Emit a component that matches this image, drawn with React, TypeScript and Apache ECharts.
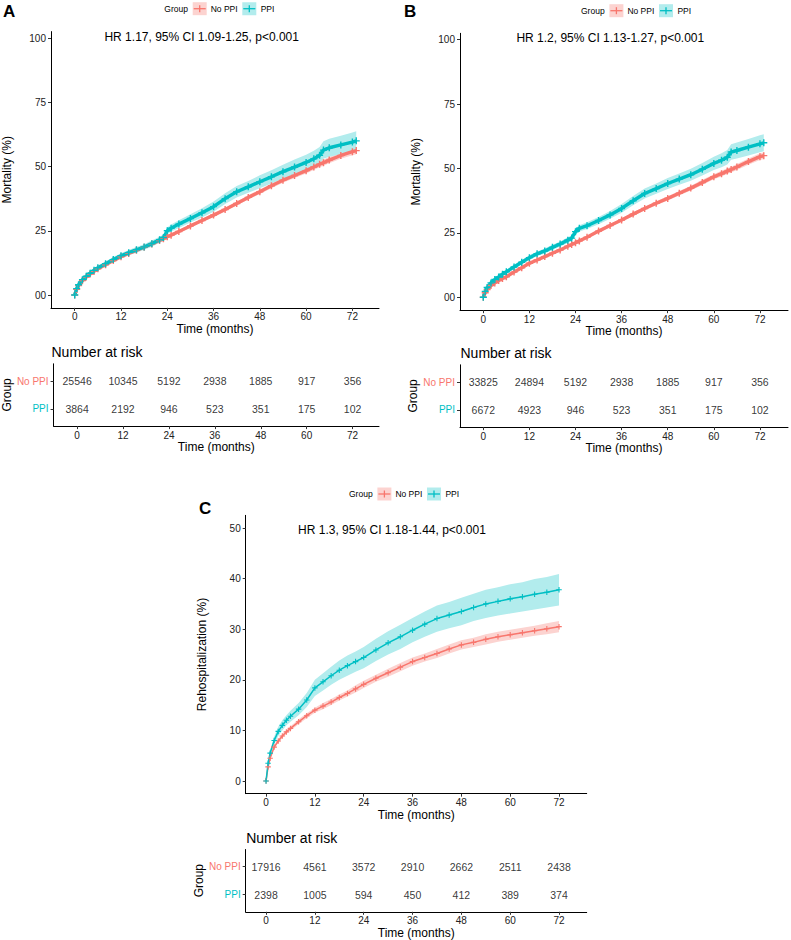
import React, { useEffect, useRef } from 'react';
import * as echarts from 'echarts';

// ---------- colours ----------
const RED = '#F8766D';
const CYAN = '#00BFC4';
const RED_BAND = '#FCD3D0';
const CYAN_BAND = '#B2ECED';
const FONT = '"Liberation Sans", Arial, Helvetica, sans-serif';

// ---------- data: panel A & B time grid (months) ----------
const timesAB = [0, 0.5, 1, 2, 3, 4, 5, 6, 8, 10, 12, 14, 16, 18, 20, 22, 23, 24, 25, 27, 30, 33, 36, 39, 42, 45, 48, 51, 54, 57, 60, 62, 63.5, 64.5, 66, 69, 72, 73];

// Panel A – mortality (%)
const aPpiEst = [0, 2.5, 4, 6, 7.3, 8.5, 9.6, 10.6, 12.2, 13.8, 15.3, 16.5, 17.6, 18.7, 20, 21.5, 22.4, 25, 26, 27.6, 29.8, 32, 34.4, 37.5, 40.2, 42.1, 44.1, 46, 48, 49.8, 51.6, 53, 54.4, 56.4, 57.3, 58.4, 59.5, 60];
const aPpiHw = [0, 0.6, 0.7, 0.8, 0.8, 0.8, 0.9, 0.9, 0.9, 1, 1, 1, 1.1, 1.1, 1.2, 1.2, 1.2, 1.3, 1.4, 1.5, 1.6, 1.8, 2, 2.1, 2.2, 2.3, 2.5, 2.6, 2.7, 2.9, 3, 3.1, 3.2, 3.4, 3.5, 3.6, 3.7, 3.7];
const aNoEst = [0, 2.2, 3.7, 5.6, 7, 8.2, 9.2, 10.2, 11.8, 13.4, 14.9, 16.2, 17.4, 18.6, 19.9, 21.2, 21.9, 22.7, 23.3, 24.7, 26.9, 29, 31.1, 33.3, 35.6, 38, 40.2, 42.5, 44.7, 46.5, 48.4, 49.8, 50.9, 51.5, 52.5, 54.3, 55.8, 56.2];
const aNoHw = [0, 0.3, 0.3, 0.3, 0.3, 0.3, 0.3, 0.3, 0.4, 0.4, 0.4, 0.4, 0.4, 0.5, 0.5, 0.5, 0.5, 0.5, 0.5, 0.6, 0.6, 0.6, 0.7, 0.7, 0.8, 0.8, 0.9, 0.9, 1, 1, 1.1, 1.1, 1.2, 1.2, 1.2, 1.3, 1.4, 1.4];

// Panel B – mortality (%)
const bPpiEst = [0, 2.3, 3.8, 5.6, 6.9, 7.9, 9, 9.9, 11.8, 13.6, 15.4, 16.9, 18, 19.4, 20.7, 22.2, 23, 25.5, 26.8, 27.8, 29.8, 32, 34.5, 37.5, 40.3, 42.2, 44.2, 45.9, 47.6, 49.7, 52, 53.2, 54.4, 56.4, 57, 58.3, 59.6, 60];
const bPpiHw = [0, 0.5, 0.6, 0.7, 0.7, 0.7, 0.8, 0.8, 0.8, 0.9, 0.9, 0.9, 1, 1, 1, 1.1, 1.1, 1.2, 1.2, 1.3, 1.4, 1.5, 1.7, 1.8, 1.9, 2, 2.1, 2.2, 2.3, 2.4, 2.6, 2.7, 2.8, 3, 3.1, 3.2, 3.3, 3.3];
const bNoEst = [0, 1.8, 3, 4.6, 5.6, 6.5, 7.3, 8, 9.8, 11.5, 13.2, 14.5, 15.8, 17.1, 18.4, 19.8, 20.5, 21.2, 21.9, 23.3, 25.7, 27.9, 30, 32.3, 34.5, 36.5, 38.4, 40.4, 42.4, 44.6, 46.8, 48, 49, 49.6, 50.6, 52.7, 54.6, 55];
const bNoHw = [0, 0.2, 0.2, 0.3, 0.3, 0.3, 0.3, 0.3, 0.3, 0.3, 0.4, 0.4, 0.4, 0.4, 0.4, 0.5, 0.5, 0.5, 0.5, 0.5, 0.6, 0.6, 0.6, 0.7, 0.7, 0.8, 0.8, 0.9, 0.9, 1, 1, 1.1, 1.1, 1.1, 1.2, 1.2, 1.3, 1.3];

// Panel C – rehospitalization (%)
const timesC = [0, 0.5, 1, 2, 3, 4, 5, 6, 8, 10, 12, 14, 16, 18, 20, 22, 24, 27, 30, 33, 36, 39, 42, 45, 48, 51, 54, 57, 60, 63, 66, 69, 72];
const cPpiEst = [0, 3.5, 5.5, 8, 9.8, 11, 12, 12.8, 14.2, 16, 18.4, 19.6, 20.8, 21.9, 22.8, 23.6, 24.4, 25.9, 27.3, 28.5, 29.8, 31, 32.1, 32.8, 33.5, 34.3, 35, 35.5, 36, 36.4, 36.9, 37.3, 37.8];
const cPpiHw = [0, 0.5, 0.6, 0.8, 0.9, 1, 1, 1.1, 1.2, 1.4, 1.6, 1.7, 1.8, 1.9, 2, 2, 2.1, 2.2, 2.3, 2.4, 2.4, 2.5, 2.6, 2.6, 2.7, 2.7, 2.8, 2.8, 2.9, 2.9, 3, 3, 3.1];
const cNoEst = [0, 2.8, 4.5, 6.7, 7.9, 8.9, 9.7, 10.4, 11.7, 12.9, 14, 14.8, 15.6, 16.5, 17.3, 18.2, 19.1, 20.3, 21.4, 22.5, 23.6, 24.4, 25.2, 26.1, 26.9, 27.4, 28, 28.5, 28.9, 29.3, 29.7, 30.1, 30.5];
const cNoHw = [0, 0.2, 0.3, 0.3, 0.4, 0.4, 0.4, 0.4, 0.5, 0.5, 0.5, 0.6, 0.6, 0.6, 0.6, 0.7, 0.7, 0.7, 0.8, 0.8, 0.8, 0.8, 0.9, 0.9, 0.9, 0.9, 1, 1, 1, 1, 1, 1.1, 1.1];

// ---------- risk tables ----------
const timeTicks = [0, 12, 24, 36, 48, 60, 72];
const riskA_No = [25546, 10345, 5192, 2938, 1885, 917, 356];
const riskA_Ppi = [3864, 2192, 946, 523, 351, 175, 102];
const riskB_No = [33825, 24894, 5192, 2938, 1885, 917, 356];
const riskB_Ppi = [6672, 4923, 946, 523, 351, 175, 102];
const riskC_No = [17916, 4561, 3572, 2910, 2662, 2511, 2438];
const riskC_Ppi = [2398, 1005, 594, 450, 412, 389, 374];

const mortTicks = [0, 25, 50, 75, 100];
const rehospTicks = [0, 10, 20, 30, 40, 50];

const PLUS = 'path://M4,0H6V4H10V6H6V10H4V6H0V4H4Z';

type Box = { left: number; top: number; width: number; height: number };
type Panel = {
  main: Box; risk: Box;
  xMin: number; xMax: number; yMin: number; yMax: number; yTicks: number[]; yName: string;
  zeroLabel: string;
  times: number[]; noEst: number[]; noHw: number[]; ppiEst: number[]; ppiHw: number[];
  riskNo: number[]; riskPpi: number[];
  lineWidth: number; symSize: number;
  hr: string; hrX: number; hrY: number;
  letter: string; letterX: number; letterY: number;
  legX: number; legY: number;
};

const panels: Panel[] = [
  {
    main: { left: 51, top: 31.6, width: 328, height: 276.3 },
    risk: { left: 51, top: 363.8, width: 328, height: 62.3 },
    xMin: -6.15, xMax: 78.9, yMin: -5, yMax: 102.5, yTicks: mortTicks, yName: 'Mortality (%)', zeroLabel: '00',
    times: timesAB, noEst: aNoEst, noHw: aNoHw, ppiEst: aPpiEst, ppiHw: aPpiHw,
    riskNo: riskA_No, riskPpi: riskA_Ppi, lineWidth: 3.4, symSize: 7,
    hr: 'HR 1.17, 95% CI 1.09-1.25, p<0.001', hrX: 201.7, hrY: 37,
    letter: 'A', letterX: 3, letterY: 11, legX: 164.3, legY: 8.7,
  },
  {
    main: { left: 460, top: 33.3, width: 328, height: 276.9 },
    risk: { left: 460, top: 364.8, width: 328, height: 62.3 },
    xMin: -6.06, xMax: 79.3, yMin: -5, yMax: 102.5, yTicks: mortTicks, yName: 'Mortality (%)', zeroLabel: '00',
    times: timesAB, noEst: bNoEst, noHw: bNoHw, ppiEst: bPpiEst, ppiHw: bPpiHw,
    riskNo: riskB_No, riskPpi: riskB_Ppi, lineWidth: 3.4, symSize: 7,
    hr: 'HR 1.2, 95% CI 1.13-1.27, p<0.001', hrX: 610.3, hrY: 38,
    letter: 'B', letterX: 404, letterY: 11, legX: 581, legY: 10.7,
  },
  {
    main: { left: 245.7, top: 515.35, width: 341, height: 278.3 },
    risk: { left: 245.7, top: 849.5, width: 341, height: 62.3 },
    xMin: -5, xMax: 78.8, yMin: -2.5, yMax: 52.5, yTicks: rehospTicks, yName: 'Rehospitalization (%)', zeroLabel: '0',
    times: timesC, noEst: cNoEst, noHw: cNoHw, ppiEst: cPpiEst, ppiHw: cPpiHw,
    riskNo: riskC_No, riskPpi: riskC_Ppi, lineWidth: 1.5, symSize: 5.5,
    hr: 'HR 1.3, 95% CI 1.18-1.44, p<0.001', hrX: 392, hrY: 530,
    letter: 'C', letterX: 199, letterY: 508, legX: 349, legY: 494,
  },
];

function textEl(text: string, x: number, y: number, size: number, fill: string, align = 'left', weight = 'normal') {
  return {
    type: 'text',
    silent: true,
    style: {
      text, x, y,
      font: `${weight} ${size}px ${FONT}`,
      fill,
      textAlign: align, align,
      textVerticalAlign: 'middle', verticalAlign: 'middle',
    },
  };
}

function legendEls(x0: number, yc: number) {
  const key = (bx: number, band: string, col: string) => [
    { type: 'rect', silent: true, shape: { x: bx, y: yc - 6.5, width: 14, height: 13 }, style: { fill: band } },
    { type: 'line', silent: true, shape: { x1: bx + 1, y1: yc, x2: bx + 13, y2: yc }, style: { stroke: col, lineWidth: 1.3 } },
    { type: 'line', silent: true, shape: { x1: bx + 7, y1: yc - 3.5, x2: bx + 7, y2: yc + 3.5 }, style: { stroke: col, lineWidth: 1.3 } },
  ];
  return [
    textEl('Group', x0, yc, 8.5, '#000'),
    ...key(x0 + 28.4, RED_BAND, RED),
    textEl('No PPI', x0 + 46.4, yc, 8.5, '#000'),
    ...key(x0 + 78, CYAN_BAND, CYAN),
    textEl('PPI', x0 + 96.4, yc, 8.5, '#000'),
  ];
}

function bandSeries(xi: number, times: number[], est: number[], hw: number[], fill: string) {
  return {
    type: 'custom',
    xAxisIndex: xi, yAxisIndex: xi,
    silent: true,
    data: times.map((t, i) => [t, est[i]]),
    encode: { x: 0, y: 1 },
    renderItem: (params: any, api: any) => {
      if (params.dataIndex !== 0) return null;
      const pts: number[][] = [];
      for (let i = 0; i < times.length; i++) pts.push(api.coord([times[i], est[i] + hw[i]]));
      for (let i = times.length - 1; i >= 0; i--) pts.push(api.coord([times[i], Math.max(0, est[i] - hw[i])]));
      return { type: 'polygon', shape: { points: pts }, style: { fill } };
    },
    z: 1,
  };
}

function lineSeries(xi: number, times: number[], est: number[], col: string, lw: number, ss: number) {
  return {
    type: 'line',
    xAxisIndex: xi, yAxisIndex: xi,
    silent: true,
    data: times.map((t, i) => [t, est[i]]),
    showSymbol: true,
    symbol: PLUS,
    symbolSize: ss,
    itemStyle: { color: col },
    lineStyle: { color: col, width: lw },
    z: 3,
  };
}

function riskSeries(xi: number, counts: number[], row: number) {
  return {
    type: 'scatter',
    xAxisIndex: xi, yAxisIndex: xi,
    silent: true,
    symbol: 'circle',
    symbolSize: 1,
    itemStyle: { color: 'rgba(0,0,0,0)' },
    data: timeTicks.map((t, i) => [t, row, counts[i]]),
    label: {
      show: true,
      position: 'inside',
      formatter: (p: any) => String(p.value[2]),
      fontSize: 10.5,
      fontFamily: FONT,
      color: '#000',
    },
  };
}

function buildOption() {
  const grid: any[] = [];
  const xAxis: any[] = [];
  const yAxis: any[] = [];
  const series: any[] = [];
  const graphic: any[] = [];

  const axisLine = { show: true, onZero: false, lineStyle: { color: '#000', width: 1 } };
  const tickStyle = { color: '#333', width: 1 };
  const labelBase = { fontSize: 10, fontFamily: FONT, color: '#222' };
  const nameStyle = { fontSize: 12, fontFamily: FONT, color: '#000' };

  panels.forEach((p, k) => {
    const mi = 2 * k;
    const ri = 2 * k + 1;
    grid.push({ ...p.main, containLabel: false });
    grid.push({ ...p.risk, containLabel: false });

    // main axes
    xAxis.push({
      type: 'value', gridIndex: mi, min: p.xMin, max: p.xMax,
      axisLine, splitLine: { show: false },
      axisTick: { show: true, length: 3, lineStyle: tickStyle, customValues: timeTicks },
      axisLabel: { ...labelBase, margin: 4, customValues: timeTicks },
      name: 'Time (months)', nameLocation: 'middle', nameGap: 15, nameTextStyle: nameStyle,
    });
    yAxis.push({
      type: 'value', gridIndex: mi, min: p.yMin, max: p.yMax,
      axisLine, splitLine: { show: false },
      axisTick: { show: true, length: 3, lineStyle: tickStyle, customValues: p.yTicks },
      axisLabel: {
        ...labelBase, margin: 5, customValues: p.yTicks,
        formatter: (v: number) => (v === 0 ? p.zeroLabel : String(v)),
      },
      name: p.yName, nameLocation: 'middle', nameGap: 38, nameTextStyle: nameStyle,
    });
    // risk axes
    xAxis.push({
      type: 'value', gridIndex: ri, min: p.xMin, max: p.xMax,
      axisLine, splitLine: { show: false },
      axisTick: { show: true, length: 3, lineStyle: tickStyle, customValues: timeTicks },
      axisLabel: { ...labelBase, margin: 4, customValues: timeTicks },
      name: 'Time (months)', nameLocation: 'middle', nameGap: 15, nameTextStyle: nameStyle,
    });
    yAxis.push({
      type: 'value', gridIndex: ri, min: 0.38, max: 2.62,
      axisLine, splitLine: { show: false },
      axisTick: { show: true, length: 3, lineStyle: tickStyle, customValues: [1, 2] },
      axisLabel: {
        fontSize: 10, fontFamily: FONT, margin: 5, customValues: [1, 2],
        formatter: (v: number) => (v === 2 ? '{a|No PPI}' : '{b|PPI}'),
        rich: {
          a: { color: RED, fontSize: 10, fontFamily: FONT },
          b: { color: CYAN, fontSize: 10, fontFamily: FONT },
        },
      },
      name: 'Group', nameLocation: 'middle', nameGap: 38, nameTextStyle: nameStyle,
    });

    series.push(bandSeries(mi, p.times, p.noEst, p.noHw, RED_BAND));
    series.push(bandSeries(mi, p.times, p.ppiEst, p.ppiHw, CYAN_BAND));
    series.push(lineSeries(mi, p.times, p.noEst, RED, p.lineWidth, p.symSize));
    series.push(lineSeries(mi, p.times, p.ppiEst, CYAN, p.lineWidth, p.symSize));
    series.push(riskSeries(ri, p.riskNo, 2));
    series.push(riskSeries(ri, p.riskPpi, 1));

    graphic.push(textEl(p.letter, p.letterX, p.letterY, 17, '#000', 'left', 'bold'));
    graphic.push(textEl(p.hr, p.hrX, p.hrY, 12, '#000', 'center'));
    graphic.push(textEl('Number at risk', p.risk.left + 0.5, p.risk.top - 11.5, 14, '#000'));
    graphic.push(...legendEls(p.legX, p.legY));
  });

  return {
    animation: false,
    backgroundColor: '#fff',
    textStyle: { fontFamily: FONT },
    grid, xAxis, yAxis, series, graphic,
  };
}

export default function App() {
  const ref = useRef<HTMLDivElement>(null);
  useEffect(() => {
    const chart = echarts.init(ref.current!, null, { renderer: 'svg' });
    chart.setOption(buildOption() as any);
    return () => chart.dispose();
  }, []);
  return (
    <div
      ref={ref}
      style={{ position: 'absolute', left: 0, top: 0, width: 791, height: 940, background: '#fff' }}
    />
  );
}
